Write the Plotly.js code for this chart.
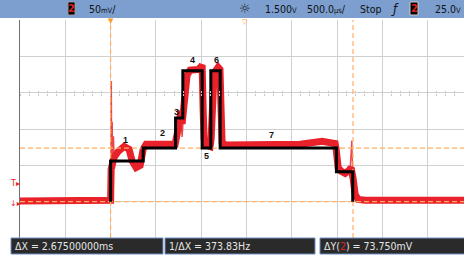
<!DOCTYPE html>
<html>
<head>
<meta charset="utf-8">
<script src="https://cdn.plot.ly/plotly-3.0.1.min.js"></script>
<style>html,body{margin:0;padding:0;background:#fff;}#chart{width:464px;height:255px;}</style>
</head>
<body>
<div id="chart"></div>
<script>
// ---- Data (time in ms, voltage in mV) ----
const redTimeMs = [-1.0, -0.01, 0.0, 0.006, 0.039, 0.083, 0.149, 0.204, 0.237, 0.281, 0.326, 0.359, 0.392, 0.546, 0.712, 0.734, 0.767, 0.778, 0.789, 0.822, 0.844, 0.877, 0.966, 0.999, 1.01, 1.021, 1.032, 1.054, 1.098, 1.109, 1.12, 1.142, 1.186, 1.207, 1.219, 1.23, 1.263, 1.65, 2.092, 2.334, 2.478, 2.489, 2.511, 2.544, 2.588, 2.632, 2.654, 2.677, 2.699, 2.732, 2.81, 3.9];
const redMv     = [1, 1, 2, 45, 61, 69, 76, 72, 56, 47, 50, 72, 79, 79, 79, 93, 116, 125, 107, 148, 174, 181, 182, 186, 188, 127, 86, 78, 76, 86, 155, 177, 185, 182, 127, 82, 78, 78, 79, 83, 80, 72, 47, 42, 39, 43, 47, 31, 10, 3, 2, 2];

const spikeTimeMs = [0.004, 0.008, 0.012, 0.018, 0.024, 0.032, 0.042, 0.052, null, 0.773, 0.789, 0.8, null, 1.225, 1.233, 1.24, null, 2.645, 2.662, 2.672];
const spikeMv     = [2, 166, 40, 110, 20, 90, 45, 70, null, 118, 89, 110, null, 80, 90, 78, null, 48, 84, 35];

const stepTimeMs = [0, 0, 0.359, 0.717, 0.797, 1.01, 1.106, 1.209, 2.492, 2.672];
const stepMv     = [0, 56, 74, 115, 180, 74, 180, 74, 41, 0];

const segLabels = ['1', '2', '3', '4', '5', '6', '7'];
const cursorXms = [0, 2.675];
const cursorYmv = [73.75, 0];

const headerTexts = ['50<span style="font-size:7.5px">mV</span>/', '1.500<span style="font-size:7.5px">V</span>', '500.0<span style="font-size:7.5px">µs</span>/', 'Stop', '25.0<span style="font-size:7.5px">V</span>'];
const statusTexts = ['ΔX = 2.67500000ms', '1/ΔX = 373.83Hz', 'ΔY(<span style="color:#e02020">2</span>) = 73.750mV'];

// ---- Layout helpers (pixel -> paper) ----
const X0 = -1, X1 = 3.9, Y0 = -50, Y1 = 250;
const PX = x => (x - 20) / 444;
const PY = y => (238 - y) / 218;
const FONT = "'Liberation Sans Narrow','DejaVu Sans Condensed','Liberation Sans',Arial,sans-serif";

const traces = [
  {x: spikeTimeMs, y: spikeMv, mode: 'lines', line: {color: 'rgba(232,40,45,0.85)', width: 1.4}, hoverinfo: 'skip'},
  {x: redTimeMs, y: redMv, mode: 'lines', line: {color: '#e8212a', width: 7}, hoverinfo: 'skip'},
  {x: [cursorXms[0], cursorXms[0]], y: [Y0, Y1], mode: 'lines', line: {color: '#ffb060', width: 1.2, dash: '5px,3px'}},
  {x: [cursorXms[1], cursorXms[1]], y: [Y0, Y1], mode: 'lines', line: {color: '#ffb060', width: 1.2, dash: '5px,3px'}},
  {x: [X0, X1], y: [cursorYmv[0], cursorYmv[0]], mode: 'lines', line: {color: '#ffb060', width: 1.2, dash: '5px,3px'}},
  {x: [X0, X1], y: [cursorYmv[1], cursorYmv[1]], mode: 'lines', line: {color: '#ffb060', width: 1.2, dash: '5px,3px'}},
  {x: stepTimeMs, y: stepMv, mode: 'lines', line: {color: '#000', width: 3, shape: 'hv'}},
  {x: [], y: [], xaxis: 'x2', yaxis: 'y'},
  {x: [], y: [], xaxis: 'x3', yaxis: 'y'}
];

const labelPos = [[0.166, 85], [0.57, 94], [0.728, 123], [0.905, 195], [1.06, 63], [1.166, 195], [1.77, 92]];
const annotations = [];
segLabels.forEach((t, i) => annotations.push({
  x: labelPos[i][0], y: labelPos[i][1], xref: 'x', yref: 'y', xanchor: 'center', yanchor: 'middle', text: '<b>' + t + '</b>',
  showarrow: false, font: {family: "'Liberation Sans',Arial,sans-serif", size: 9, color: '#111'}
}));

const hdrX = [87, 263, 305, 358, 433];
headerTexts.forEach((t, i) => annotations.push({
  x: PX(hdrX[i]), y: PY(9), xref: 'paper', yref: 'paper', xanchor: 'left', yanchor: 'middle',
  text: t, showarrow: false, font: {family: FONT, size: 10.5, color: '#111'}
}));
const cAnn = (px, py, text, family, size, color) => ({x: PX(px), y: PY(py), xref: 'paper', yref: 'paper',
  xanchor: 'center', yanchor: 'middle', text: text, showarrow: false, font: {family: family, size: size, color: color}});
annotations.push(cAnn(245, 9, '☼', "'DejaVu Sans',sans-serif", 13, '#222'));
annotations.push(cAnn(395, 9, '<i>ƒ</i>', "'DejaVu Sans',sans-serif", 12, '#111'));
annotations.push(cAnn(71.5, 9, '<b>2</b>', FONT, 11, '#e02020'));
annotations.push(cAnn(414, 9, '<b>2</b>', FONT, 11, '#e02020'));
annotations.push(cAnn(110.5, 20.5, '▼', "'DejaVu Sans',sans-serif", 7, '#ff9a20'));
annotations.push(cAnn(245, 22, '▽', "'DejaVu Sans',sans-serif", 7, '#ff9a20'));
annotations.push(cAnn(15, 183, 'T▸', "'DejaVu Sans',sans-serif", 8, '#e8212a'));
annotations.push(cAnn(15, 203, '↓▸', "'DejaVu Sans',sans-serif", 8, '#e8212a'));

const statX = [13, 167, 322];
statusTexts.forEach((t, i) => annotations.push({
  x: PX(statX[i]), y: PY(246), xref: 'paper', yref: 'paper', xanchor: 'left', yanchor: 'middle',
  text: t, showarrow: false, font: {family: FONT, size: 10.5, color: '#e6e6e6'}
}));

const rect = (x0, y0, x1, y1, fill, line, lw) => ({type: 'rect', xref: 'paper', yref: 'paper',
  x0: PX(x0), x1: PX(x1), y0: PY(y1), y1: PY(y0), fillcolor: fill, line: {color: line, width: lw || 0}, layer: 'above'});

const shapes = [
  rect(0, 0, 464, 18, '#7c9fd0', '#7c9fd0', 0),
  rect(68, 2, 75, 15, '#000', '#999', 1),
  rect(410, 2, 418, 15, '#000', '#ccc', 1),
  rect(11, 238, 163, 254, '#2a2a2a', '#6f8fc4', 1),
  rect(165, 238, 315, 254, '#2a2a2a', '#6f8fc4', 1),
  rect(320, 238, 466, 254, '#2a2a2a', '#6f8fc4', 1)
];

const axBase = {showticklabels: false, zeroline: false, fixedrange: true};
const layout = {
  width: 464, height: 255,
  margin: {l: 20, r: 0, t: 20, b: 17, pad: 0},
  paper_bgcolor: '#fff', plot_bgcolor: '#fff', showlegend: false,
  xaxis: Object.assign({}, axBase, {range: [X0, X1], tick0: 0, dtick: 0.5, ticks: '', showgrid: true, gridcolor: '#d0d0d0', gridwidth: 1, showline: false}),
  xaxis2: Object.assign({}, axBase, {overlaying: 'x', anchor: 'free', position: (150 - Y0) / (Y1 - Y0), range: [X0, X1], tick0: 0, dtick: 0.1, ticks: 'outside', ticklen: 2, tickcolor: '#c4c4c4', showgrid: false, showline: false}),
  xaxis3: Object.assign({}, axBase, {overlaying: 'x', anchor: 'free', position: (150 - Y0) / (Y1 - Y0), range: [X0, X1], tick0: 0, dtick: 0.1, ticks: 'inside', ticklen: 2, tickcolor: '#c4c4c4', showgrid: false, showline: false}),
  yaxis: Object.assign({}, axBase, {range: [Y0, Y1], tick0: 0, dtick: 50, ticks: '', showgrid: true, gridcolor: '#d0d0d0', gridwidth: 1, showline: true, linecolor: '#707070', linewidth: 1}),
  annotations: annotations,
  shapes: shapes
};

Plotly.newPlot('chart', traces, layout, {staticPlot: true, displayModeBar: false});
</script>
</body>
</html>
